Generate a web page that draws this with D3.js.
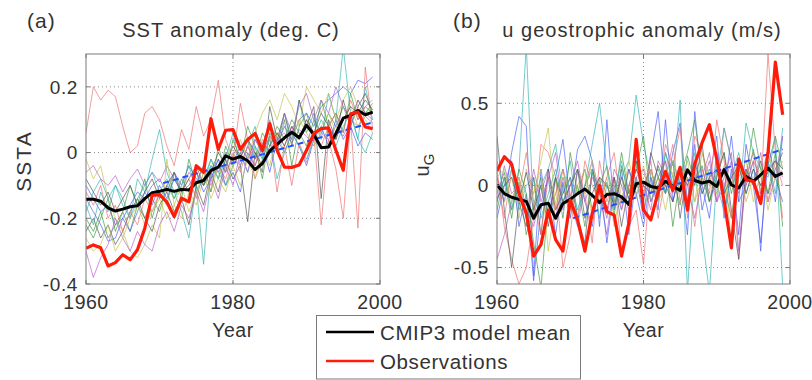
<!DOCTYPE html>
<html><head><meta charset="utf-8">
<script src="https://cdn.jsdelivr.net/npm/d3@7"></script>
<style>
body{margin:0;background:#fff}
svg{display:block}
text{font-family:"Liberation Sans",Arial,Helvetica,sans-serif;fill:#333}
</style>
</head><body>
<svg id="c" width="812" height="380"></svg>
<script>
const years = [1960,1961,1962,1963,1964,1965,1966,1967,1968,1969,1970,1971,1972,1973,1974,1975,1976,1977,1978,1979,
               1980,1981,1982,1983,1984,1985,1986,1987,1988,1989,1990,1991,1992,1993,1994,1995,1996,1997,1998,1999];

// ---- Panel (a): SST anomaly ----
const sstMean = [-0.142,-0.142,-0.148,-0.168,-0.178,-0.172,-0.165,-0.162,-0.140,-0.122,
                 -0.118,-0.112,-0.118,-0.112,-0.114,-0.092,-0.085,-0.055,-0.044,-0.010,
                 -0.020,-0.012,-0.025,-0.052,-0.033,0.005,0.025,0.045,0.062,0.045,
                 0.083,0.055,0.015,0.017,0.058,0.105,0.113,0.128,0.115,0.123];
const sstObs = [-0.291,-0.281,-0.290,-0.345,-0.335,-0.311,-0.326,-0.296,-0.230,-0.130,
                -0.128,-0.150,-0.195,-0.139,-0.150,-0.040,-0.060,0.103,0.010,0.068,
                0.070,0.010,0.040,0.058,0.007,0.088,0.007,-0.044,-0.045,-0.038,
                0.007,0.058,0.073,0.075,0.007,-0.054,0.118,0.123,0.078,0.073];
const sstTrendYears = [1970.5, 1999];
const sstTrend = [-0.093, 0.092];
const sstModels = [
 [-0.10,-0.14,-0.18,-0.16,-0.22,-0.20,-0.16,-0.12,-0.14,-0.10,-0.08,-0.12,-0.06,-0.10,-0.04,-0.08,-0.10,-0.04,-0.06,0.00,-0.03,0.02,-0.02,0.04,0.00,0.05,0.02,0.08,0.04,0.10,0.12,0.08,0.14,0.16,0.18,0.20,0.18,0.22,0.21,0.23],
 [-0.20,-0.24,-0.18,-0.26,-0.22,-0.18,-0.24,-0.16,-0.20,-0.14,-0.18,-0.10,-0.14,-0.08,-0.12,-0.06,-0.10,-0.02,-0.08,0.02,-0.04,0.00,0.04,-0.02,0.06,0.02,0.08,0.04,0.10,0.06,0.02,0.10,0.06,0.12,0.08,0.14,0.10,0.16,0.12,0.15],
 [0.06,0.20,0.16,0.19,0.17,0.08,0.00,0.02,0.12,0.14,0.10,0.02,-0.04,0.07,0.01,0.14,0.05,0.10,0.22,0.04,-0.02,0.15,0.04,-0.08,-0.02,0.05,-0.12,0.02,-0.10,0.03,-0.03,0.06,-0.22,0.04,-0.05,-0.20,0.10,-0.23,0.26,0.07],
 [-0.16,-0.22,-0.12,-0.18,-0.10,-0.14,-0.20,-0.08,-0.12,-0.02,0.07,-0.06,-0.12,-0.18,-0.26,-0.10,-0.34,-0.04,-0.08,-0.02,0.06,-0.04,0.02,0.08,-0.02,0.10,0.02,0.12,0.04,0.16,0.06,0.12,0.04,0.18,0.10,0.32,0.12,0.04,0.20,0.10],
 [-0.06,-0.04,-0.08,-0.10,-0.07,-0.12,-0.08,-0.05,-0.10,-0.06,-0.09,-0.04,-0.08,-0.12,-0.06,-0.09,-0.04,-0.08,-0.02,-0.06,-0.01,-0.04,0.02,-0.02,0.03,0.00,0.04,0.06,0.03,0.07,0.05,0.02,0.06,0.04,0.08,0.05,0.10,0.08,0.11,0.09],
 [-0.02,-0.08,-0.04,-0.14,-0.20,-0.24,-0.30,-0.32,-0.28,-0.22,-0.26,-0.02,-0.16,-0.20,-0.12,-0.16,-0.08,-0.12,-0.04,-0.10,-0.02,0.04,-0.02,0.06,0.12,0.16,0.10,0.18,0.14,0.08,0.20,0.16,0.12,0.18,0.10,0.16,0.20,0.14,0.10,0.06],
 [-0.24,-0.20,-0.26,-0.22,-0.28,-0.24,-0.18,-0.14,-0.20,-0.24,-0.16,-0.12,-0.18,-0.14,-0.22,-0.10,-0.16,-0.06,-0.12,-0.02,-0.08,-0.04,-0.21,0.00,-0.06,0.14,0.04,0.12,0.02,0.16,0.08,0.14,-0.14,0.10,0.04,0.16,0.08,0.14,0.18,0.12],
 [-0.14,-0.18,-0.22,-0.27,-0.26,-0.20,-0.24,-0.18,-0.12,-0.16,-0.10,-0.14,-0.08,-0.12,-0.10,-0.06,-0.12,-0.08,-0.02,-0.10,-0.06,-0.12,0.00,-0.04,0.02,-0.06,0.04,0.00,0.06,0.02,-0.04,0.04,0.08,0.02,0.10,0.04,0.08,0.02,0.06,0.04],
 [-0.22,-0.26,-0.20,-0.14,-0.24,-0.18,-0.10,-0.16,-0.08,-0.20,-0.12,-0.16,-0.06,-0.14,-0.02,-0.10,-0.04,-0.12,0.02,-0.06,0.04,-0.02,0.08,0.02,-0.08,0.06,0.00,0.10,-0.04,0.08,0.12,0.04,0.16,0.08,0.12,0.06,0.18,0.10,0.14,0.12],
 [-0.12,-0.16,-0.10,-0.20,-0.16,-0.24,-0.18,-0.22,-0.14,-0.18,-0.12,-0.16,-0.20,-0.12,-0.08,-0.14,-0.06,-0.10,-0.04,-0.08,0.00,-0.06,0.02,-0.04,0.04,0.00,0.06,0.02,0.08,0.04,0.10,0.06,0.02,0.08,0.12,0.06,0.16,0.10,0.14,0.16],
 [-0.18,-0.12,-0.08,-0.14,-0.10,-0.16,-0.20,-0.14,-0.10,-0.06,-0.12,-0.08,-0.14,-0.10,-0.04,-0.12,-0.08,-0.02,-0.06,-0.10,-0.04,0.00,-0.06,0.02,-0.02,0.04,-0.08,0.00,0.06,0.02,-0.02,0.04,0.10,0.06,0.02,0.08,0.12,0.04,0.00,0.06],
 [-0.30,-0.38,-0.32,-0.28,-0.20,-0.26,-0.30,-0.24,-0.28,-0.30,-0.22,-0.18,-0.24,-0.16,-0.20,-0.12,-0.18,-0.08,-0.14,-0.04,-0.10,0.00,-0.06,0.04,0.00,0.08,0.02,0.12,0.06,0.14,0.18,0.10,0.16,0.12,0.20,0.14,0.08,0.16,0.12,0.10],
 [-0.26,-0.30,-0.28,-0.22,-0.30,-0.26,-0.20,-0.16,-0.22,-0.18,-0.14,-0.20,-0.16,-0.10,-0.18,-0.12,-0.06,-0.14,-0.08,-0.12,-0.04,-0.10,-0.02,-0.08,0.02,-0.04,0.06,0.00,0.04,0.10,0.06,0.02,0.08,0.12,0.06,0.10,0.14,0.08,0.12,0.14],
 [-0.08,-0.12,-0.16,-0.12,-0.18,-0.14,-0.10,-0.16,-0.12,-0.08,-0.14,-0.10,-0.06,-0.12,-0.08,-0.04,-0.10,-0.06,0.00,-0.04,0.02,-0.02,0.04,0.00,-0.04,0.02,0.06,0.02,0.08,0.04,0.10,0.06,0.12,0.08,0.04,0.10,0.14,0.12,0.16,0.13]
];

// ---- Panel (b): u geostrophic anomaly ----
const ugMean = [0.004,-0.050,-0.072,-0.085,-0.097,-0.200,-0.118,-0.108,-0.200,-0.110,
                -0.085,-0.050,-0.022,-0.060,-0.105,-0.055,-0.050,-0.070,-0.115,0.010,
                0.020,-0.006,-0.016,0.025,-0.006,-0.030,0.095,0.030,0.015,0.025,
                -0.006,0.096,0.004,-0.016,0.055,0.025,0.065,0.106,0.055,0.076];
const ugObs = [0.090,0.175,0.130,-0.050,-0.170,-0.430,-0.360,-0.150,-0.330,-0.400,
               -0.090,-0.210,-0.400,-0.170,0.000,-0.160,-0.180,-0.430,-0.230,0.280,
               -0.150,-0.210,-0.040,0.085,-0.030,0.110,-0.150,0.130,0.260,0.370,
               0.160,-0.090,-0.380,0.160,0.035,0.025,-0.110,0.200,0.750,0.430];
const ugTrendYears = [1970.4, 1999];
const ugTrend = [-0.20, 0.22];
const ugModels = [
 [0.05,-0.10,0.20,0.42,0.36,-0.55,0.10,-0.20,0.05,0.28,-0.10,0.22,0.30,0.15,-0.25,0.40,-0.15,0.10,-0.30,0.05,-0.20,0.18,0.45,-0.05,0.20,0.38,-0.10,0.25,-0.15,0.05,0.30,-0.20,0.10,-0.30,0.25,0.00,-0.35,0.15,-0.10,0.30],
 [-0.05,0.08,-0.15,0.02,-0.30,-0.12,0.05,-0.20,-0.05,0.10,-0.15,0.00,-0.25,0.08,-0.10,0.02,-0.18,0.12,-0.05,0.15,0.00,0.10,-0.08,0.20,0.05,-0.12,0.18,0.02,0.12,-0.10,0.08,0.20,-0.05,0.15,0.02,0.22,-0.05,0.12,0.30,0.10],
 [0.10,-0.25,-0.45,-0.60,-0.50,-0.20,0.25,0.20,0.05,-0.50,-0.30,0.10,-0.05,-0.35,0.15,-0.10,0.05,-0.40,-0.25,-0.15,-0.48,0.10,-0.05,0.25,0.12,0.35,-0.20,0.30,0.20,0.05,-0.10,0.35,0.15,-0.45,0.05,0.20,-0.05,0.80,0.20,-0.20],
 [-0.10,0.05,-0.15,0.10,0.85,-0.20,0.00,0.10,0.25,-0.05,0.15,-0.20,0.00,0.25,0.50,0.10,-0.15,0.05,0.15,0.55,0.25,0.05,-0.10,0.20,0.00,0.52,-0.65,0.10,-0.30,-0.65,0.05,0.35,0.15,-0.10,0.38,0.20,0.10,0.05,0.30,-0.62],
 [-0.45,-0.30,-0.10,0.05,-0.15,-0.25,-0.05,0.10,-0.20,0.05,-0.10,-0.25,0.00,0.15,-0.05,-0.30,0.05,-0.10,0.10,-0.05,0.00,-0.15,0.15,0.05,-0.10,0.10,0.00,-0.20,0.05,0.20,-0.10,0.00,0.15,-0.05,0.10,0.00,0.20,-0.10,0.05,0.30],
 [0.00,-0.10,0.05,-0.20,0.10,-0.05,0.15,0.35,-0.15,0.00,-0.20,0.10,-0.05,0.15,-0.10,0.05,-0.25,0.00,0.10,-0.08,0.12,-0.05,0.05,-0.15,0.08,0.00,0.15,-0.10,0.05,0.10,-0.05,0.12,-0.35,0.05,0.15,-0.10,0.08,0.20,0.05,0.15],
 [0.30,-0.15,-0.50,-0.10,-0.25,0.05,-0.30,0.10,-0.15,-0.05,0.05,-0.20,-0.35,0.10,-0.05,-0.15,0.05,-0.25,0.00,0.15,-0.10,0.20,0.05,-0.05,0.15,-0.20,0.10,0.00,0.25,-0.10,0.05,0.20,-0.15,-0.45,0.10,0.00,0.15,-0.05,0.10,0.20],
 [-0.20,0.00,0.15,-0.25,-0.05,-0.58,-0.15,0.05,-0.30,0.02,-0.20,0.10,-0.10,-0.25,0.05,-0.35,0.00,-0.15,0.10,-0.05,-0.25,0.05,-0.15,0.40,-0.10,0.10,-0.30,0.45,0.00,-0.20,0.20,-0.05,0.30,-0.10,0.00,0.15,-0.40,0.25,0.05,-0.10],
 [-0.15,0.05,-0.20,0.10,-0.05,-0.35,-0.62,-0.10,0.05,-0.20,0.20,-0.05,0.10,-0.15,0.00,0.12,-0.10,0.20,-0.05,0.10,0.30,-0.10,0.05,0.15,-0.25,0.05,0.20,0.40,0.05,-0.10,0.12,0.00,-0.20,0.15,0.05,0.35,0.10,-0.05,0.20,-0.25],
 [0.05,-0.20,0.10,-0.05,0.20,-0.10,-0.30,0.05,-0.15,0.10,-0.05,-0.20,0.15,0.00,-0.10,0.05,0.20,-0.15,0.00,0.10,-0.05,0.15,-0.20,0.05,0.25,-0.10,0.05,-0.25,0.10,-0.05,0.40,0.15,-0.20,0.10,0.00,0.15,0.05,-0.10,0.15,0.00],
 [0.15,-0.05,0.10,-0.15,0.00,0.05,-0.20,-0.05,0.10,-0.10,0.05,-0.15,0.00,0.10,-0.20,0.00,-0.05,0.15,-0.10,0.05,-0.15,0.00,0.10,-0.05,0.15,0.00,-0.10,0.20,-0.05,0.10,0.00,-0.15,0.05,0.20,-0.05,0.10,0.00,0.15,-0.05,0.35],
 [-0.10,0.12,-0.05,0.00,-0.20,0.10,-0.10,0.05,0.20,-0.15,0.00,0.15,-0.10,0.05,-0.05,-0.20,0.10,0.00,-0.15,0.05,0.10,-0.10,0.00,0.15,-0.05,0.10,-0.15,0.05,0.00,0.15,-0.10,0.05,0.20,-0.40,0.10,0.00,-0.05,0.10,0.15,0.05],
 [0.05,0.10,-0.10,0.05,-0.15,-0.05,0.10,-0.40,-0.10,0.05,-0.15,0.00,0.10,-0.20,0.05,-0.05,0.00,-0.10,0.15,-0.05,0.05,0.10,-0.10,0.00,0.15,-0.05,0.05,-0.10,0.20,0.00,-0.05,0.10,0.00,0.15,-0.10,0.05,0.10,-0.15,0.05,0.10],
 [-0.08,0.00,0.05,-0.10,0.08,-0.15,0.00,-0.25,0.05,-0.10,0.00,0.10,-0.20,-0.05,0.05,0.00,-0.12,0.05,-0.08,0.10,0.00,-0.05,0.12,0.00,-0.10,0.08,0.00,0.15,-0.05,0.05,0.10,-0.05,0.05,0.12,-0.05,0.10,0.00,0.08,0.15,0.10]
];

const modelColors = ["#4a5cf5","#3f9a3f","#ee6f6f","#33b3b3","#b55fc8","#c2c24a","#555555"];
const xTicks = [1960, 1980, 2000];
const sstTicks = [-0.4, -0.2, 0, 0.2];
const sstTickLabels = ["-0.4", "-0.2", "0", "0.2"];
const ugTicks = [-0.5, 0, 0.5];
const ugTickLabels = ["-0.5", "0", "0.5"];
const legendLabels = ["CMIP3 model mean", "Observations"];

const svg = d3.select("#c");

function panel(o) {
  const x = d3.scaleLinear().domain([1960, 2000]).range([o.x0, o.x1]);
  const y = d3.scaleLinear().domain(o.yDomain).range([o.y1, o.y0]);
  const g = svg.append("g");
  const clipId = "clip" + o.id;
  svg.append("clipPath").attr("id", clipId).append("rect")
    .attr("x", o.x0).attr("y", o.y0).attr("width", o.x1 - o.x0).attr("height", o.y1 - o.y0);

  // grid
  g.selectAll(".gx").data(xTicks.filter(t => t > 1960 && t < 2000)).enter().append("line")
    .attr("x1", d => x(d)).attr("x2", d => x(d)).attr("y1", o.y0).attr("y2", o.y1)
    .attr("stroke", "#8a8a8a").attr("stroke-width", 1).attr("stroke-dasharray", "1,3");
  g.selectAll(".gy").data(o.ticks.filter(t => y(t) > o.y0 + 1 && y(t) < o.y1 - 1)).enter().append("line")
    .attr("y1", d => y(d)).attr("y2", d => y(d)).attr("x1", o.x0).attr("x2", o.x1)
    .attr("stroke", "#8a8a8a").attr("stroke-width", 1).attr("stroke-dasharray", "1,3");

  const line = d3.line().x((d, i) => x(years[i])).y(d => y(d));
  const lines = g.append("g").attr("clip-path", `url(#${clipId})`);
  o.models.forEach((m, i) => {
    lines.append("path").attr("d", line(m)).attr("fill", "none")
      .attr("stroke", modelColors[i % modelColors.length]).attr("stroke-width", 0.85)
      .attr("stroke-opacity", 0.8);
  });
  const tline = d3.line().x(d => x(d[0])).y(d => y(d[1]));
  lines.append("path").attr("d", tline(o.trendYears.map((t, i) => [t, o.trend[i]])))
    .attr("fill", "none").attr("stroke", "#1f4fff").attr("stroke-width", 2).attr("stroke-dasharray", "6,4");
  lines.append("path").attr("d", line(o.mean)).attr("fill", "none")
    .attr("stroke", "#000").attr("stroke-width", 3).attr("stroke-linejoin", "round");
  lines.append("path").attr("d", line(o.obs)).attr("fill", "none")
    .attr("stroke", "#ff1a0a").attr("stroke-width", 3.2).attr("stroke-linejoin", "round");

  // box
  g.append("rect").attr("x", o.x0).attr("y", o.y0).attr("width", o.x1 - o.x0).attr("height", o.y1 - o.y0)
    .attr("fill", "none").attr("stroke", "#7a7a7a").attr("stroke-width", 1);

  // ticks (inward, both sides)
  o.ticks.forEach(t => {
    [[o.x0, 4], [o.x1, -4]].forEach(([xx, dx]) => {
      g.append("line").attr("x1", xx).attr("x2", xx + dx).attr("y1", y(t)).attr("y2", y(t))
        .attr("stroke", "#7a7a7a");
    });
  });
  xTicks.forEach(t => {
    [[o.y1, -4], [o.y0, 4]].forEach(([yy, dy]) => {
      g.append("line").attr("x1", x(t)).attr("x2", x(t)).attr("y1", yy).attr("y2", yy + dy)
        .attr("stroke", "#7a7a7a");
    });
  });

  // tick labels
  g.selectAll(".yl").data(o.ticks).enter().append("text")
    .attr("x", o.x0 - 8).attr("y", d => y(d)).attr("dy", "0.35em")
    .attr("text-anchor", "end").attr("font-size", 19).attr("letter-spacing", 0.6)
    .text((d, i) => o.tickLabels[i]);
  g.selectAll(".xl").data(xTicks).enter().append("text")
    .attr("x", d => x(d)).attr("y", 309).attr("text-anchor", "middle").attr("font-size", 19.5)
    .attr("letter-spacing", 0.5).text(d => d);

  // labels
  const cx = (o.x0 + o.x1) / 2;
  g.append("text").attr("x", cx).attr("y", 337).attr("text-anchor", "middle").attr("font-size", 19.5)
    .attr("letter-spacing", 0.5).text("Year");
  g.append("text").attr("x", o.titleX).attr("y", 37).attr("text-anchor", "middle").attr("font-size", 20)
    .attr("letter-spacing", 1).text(o.title);
  g.append("text").attr("x", o.tagX).attr("y", 28).attr("font-size", 21).attr("letter-spacing", 1).text(o.tag);
  return g;
}

panel({id: "a", x0: 86, x1: 380, y0: 54, y1: 284, yDomain: [-0.4, 0.3],
  ticks: sstTicks, tickLabels: sstTickLabels, mean: sstMean, obs: sstObs,
  models: sstModels, trendYears: sstTrendYears, trend: sstTrend,
  title: "SST anomaly (deg. C)", titleX: 231, tag: "(a)", tagX: 27});
panel({id: "b", x0: 497, x1: 790, y0: 54, y1: 284, yDomain: [-0.6, 0.8],
  ticks: ugTicks, tickLabels: ugTickLabels, mean: ugMean, obs: ugObs,
  models: ugModels, trendYears: ugTrendYears, trend: ugTrend,
  title: "u geostrophic anomaly (m/s)", titleX: 642, tag: "(b)", tagX: 453});

// y axis labels
svg.append("text").attr("transform", "translate(31,161) rotate(-90)")
  .attr("text-anchor", "middle").attr("font-size", 21).attr("letter-spacing", 2).text("SSTA");
const ul = svg.append("text").attr("transform", "translate(429,165) rotate(-90)")
  .attr("text-anchor", "middle").attr("font-size", 20);
ul.append("tspan").text("u");
ul.append("tspan").attr("dy", 5).attr("font-size", 15).text("G");

// legend
const lg = svg.append("g");
lg.append("rect").attr("x", 316.5).attr("y", 315.5).attr("width", 264).attr("height", 63.5)
  .attr("fill", "#fff").attr("stroke", "#7a7a7a");
const legColors = ["#000", "#ff1a0a"];
legendLabels.forEach((lab, i) => {
  const yy = 332 + i * 29;
  lg.append("line").attr("x1", 326).attr("x2", 374).attr("y1", yy).attr("y2", yy)
    .attr("stroke", legColors[i]).attr("stroke-width", 2.5);
  lg.append("text").attr("x", 380).attr("y", yy + 8).attr("font-size", 20.5).attr("letter-spacing", 0.6).text(lab);
});
</script>
</body></html>
